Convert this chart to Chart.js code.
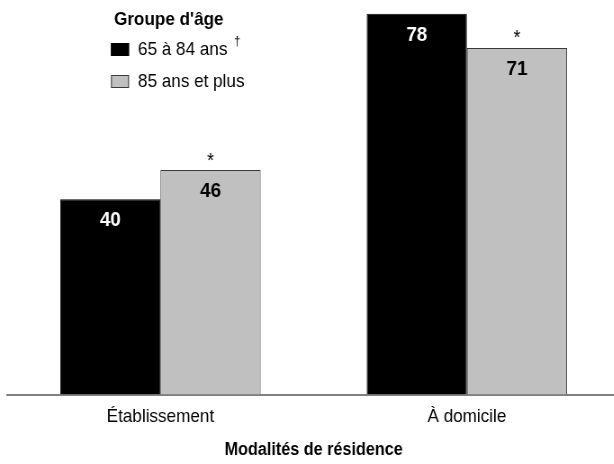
<!DOCTYPE html>
<html>
<head>
<meta charset="utf-8">
<script src="https://cdn.jsdelivr.net/npm/chart.js@4/dist/chart.umd.min.js"></script>
<style>
  html, body { margin: 0; padding: 0; background: #fff; overflow: hidden; width: 614px; height: 464px; }
  /* the original uses a condensed face: draw wider, then squeeze horizontally */
  canvas { display: block; transform: scaleX(0.9); transform-origin: 0 0; }
</style>
</head>
<body>
<canvas id="residenceChart" width="690" height="464"></canvas>
<script>
const categories = ["Établissement", "À domicile"];
const age65to84 = [40, 78];
const age85plus = [46, 71];
const seriesLabels = ["65 à 84 ans", "85 ans et plus"];
const seriesNotes = ["†", ""];
const age85plusMarks = ["*", "*"];
const legendTitle = "Groupe d'âge";
const axisTitle = "Modalités de résidence";

const FONT = "'Liberation Sans', Arial, Helvetica, sans-serif";
const SQ = 0.9; // horizontal squeeze applied by css

// value labels inside bars + asterisks above the grey ones
const barLabels = {
  id: "barLabels",
  afterDatasetsDraw(chart) {
    const ctx = chart.ctx;
    ctx.save();
    ctx.textAlign = "center";
    ctx.textBaseline = "middle";
    chart.data.datasets.forEach((ds, i) => {
      const meta = chart.getDatasetMeta(i);
      meta.data.forEach((bar, j) => {
        ctx.font = "bold 21px " + FONT;
        ctx.fillStyle = i === 0 ? "#fff" : "#000";
        ctx.fillText(ds.data[j], bar.x, bar.y + 21);
        if (i === 1 && age85plusMarks[j]) {
          ctx.font = "20px " + FONT;
          ctx.fillStyle = "#000";
          ctx.fillText(age85plusMarks[j], bar.x, bar.y - 9);
        }
      });
    });
    ctx.restore();
  }
};

// legend drawn top-left like the original
const groupLegend = {
  id: "groupLegend",
  afterDraw(chart) {
    const ctx = chart.ctx;
    ctx.save();
    ctx.textBaseline = "middle";
    ctx.textAlign = "left";
    ctx.fillStyle = "#000";
    ctx.font = "bold 19px " + FONT;
    ctx.fillText(legendTitle, 114 / SQ, 20);
    const rows = [50, 82];
    const sqX = 111 / SQ, sqW = 18 / SQ;
    chart.data.datasets.forEach((ds, i) => {
      const y = rows[i];
      ctx.fillStyle = ds.backgroundColor;
      ctx.fillRect(sqX, y - 7, sqW, 13);
      ctx.strokeStyle = ds.borderColor;
      ctx.lineWidth = 1;
      ctx.strokeRect(sqX + 0.5, y - 6.5, sqW - 1, 12);
      ctx.fillStyle = "#000";
      ctx.font = "19px " + FONT;
      const tx = 138 / SQ;
      ctx.fillText(seriesLabels[i], tx, y);
      if (seriesNotes[i]) {
        const w = ctx.measureText(seriesLabels[i] + " ").width;
        ctx.font = "13px " + FONT;
        ctx.fillText(seriesNotes[i], tx + w + 2, y - 9);
      }
    });
    ctx.restore();
  }
};

new Chart(document.getElementById("residenceChart"), {
  type: "bar",
  data: {
    labels: categories,
    datasets: [
      {
        label: seriesLabels[0],
        data: age65to84,
        backgroundColor: "#000000",
        borderColor: "#000000",
        borderWidth: 1
      },
      {
        label: seriesLabels[1],
        data: age85plus,
        backgroundColor: "#c0c0c0",
        borderColor: "#3a3a3a",
        borderWidth: 1
      }
    ]
  },
  options: {
    responsive: false,
    animation: false,
    devicePixelRatio: 1,
    categoryPercentage: 0.654,
    barPercentage: 1,
    layout: { padding: { left: 8, right: 1, top: 4, bottom: 3 } },
    plugins: {
      legend: { display: false },
      tooltip: { enabled: false }
    },
    scales: {
      x: {
        grid: { display: false, drawTicks: false },
        border: { display: true, color: "#808080", width: 2 },
        ticks: { color: "#000", padding: 11, font: { family: FONT, size: 19 } },
        title: {
          display: true,
          text: axisTitle,
          color: "#000",
          font: { family: FONT, size: 18, weight: "bold" },
          padding: { top: 0, bottom: 0 }
        }
      },
      y: {
        display: false,
        min: 0,
        max: 80
      }
    }
  },
  plugins: [barLabels, groupLegend]
});
</script>
</body>
</html>
